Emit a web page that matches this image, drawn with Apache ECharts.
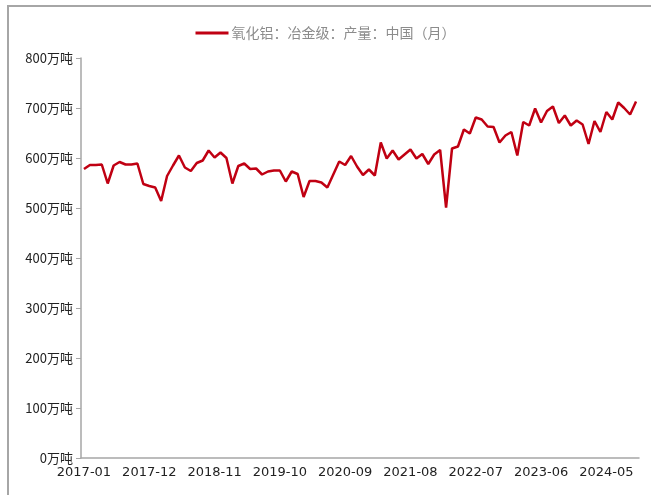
<!DOCTYPE html>
<html>
<head>
<meta charset="utf-8">
<script src="https://cdn.jsdelivr.net/npm/echarts@6/dist/echarts.min.js"></script>
<style>
html,body{margin:0;padding:0;background:#fff;}
#frame{position:absolute;left:7px;top:5px;width:700px;height:600px;border-left:2px solid #a6a6a6;border-top:2px solid #a6a6a6;}
#chart{position:absolute;left:0;top:0;width:651px;height:495px;}
</style>
</head>
<body>
<div id="frame"></div>
<div id="chart"></div>
<script>
const seriesName = '氧化铝：冶金级：产量：中国（月）';
const startYear = 2017;
const monthCount = 94;
const categories = [];
for (let i = 0; i < monthCount; i++) {
  const y = startYear + Math.floor(i / 12);
  const m = (i % 12) + 1;
  categories.push(y + '-' + (m < 10 ? '0' + m : m));
}
const values2017_2019 = [578,586,586,587,549,585,592,587,587,589,548,544,
                         541,514,564,585,605,581,574,590,595,615,601,611,
                         600,549,584,589,578,579,567,573];
const values2019_2022 = [575,575,553,573,568,522,554,554,551,541,567,593,
                         586,604,583,566,577,565,631,599,615,597,607,617,
                         599,608,588,607,616,501];
const values2022_2024 = [619,623,657,649,681,677,663,662,631,645,652,605,
                         672,665,699,671,694,703,670,685,665,675,667,628,
                         674,652,692,677,711,700,687,713];
const values = values2017_2019.concat(values2019_2022, values2022_2024);
const yTicks = [0,100,200,300,400,500,600,700,800];
const unit = '万吨';

const chart = echarts.init(document.getElementById('chart'), null, {renderer:'canvas'});
chart.setOption({
  animation: false,
  backgroundColor: 'transparent',
  legend: {
    top: 21,
    left: 'center',
    icon: 'rect',
    itemWidth: 33,
    itemHeight: 3,
    itemGap: 6,
    textStyle: {color: '#8c8c8c', fontSize: 14, fontFamily: '"Noto Sans CJK SC", sans-serif', padding: [0,0,0,-2]},
    data: [seriesName]
  },
  grid: {left: 81, right: 12, top: 58, bottom: 37, containLabel: false},
  xAxis: {
    type: 'category',
    data: categories,
    boundaryGap: true,
    axisLine: {lineStyle: {color: '#a6a6a6', width: 1.5}},
    axisTick: {interval: 10, length: 5, lineStyle: {color: '#a6a6a6'}},
    axisLabel: {interval: 10, color: '#222', fontSize: 13, margin: 8, fontFamily: '"DejaVu Sans", sans-serif'},
    splitLine: {show: false}
  },
  yAxis: {
    type: 'value',
    min: yTicks[0],
    max: yTicks[yTicks.length - 1],
    interval: 100,
    axisLine: {show: true, lineStyle: {color: '#a6a6a6', width: 1.5}},
    axisTick: {show: true, length: 5, lineStyle: {color: '#a6a6a6'}},
    axisLabel: {color: '#222', fontSize: 13, margin: 8, fontFamily: '"Noto Sans CJK SC", sans-serif',
      formatter: function (v) { return v + unit; }},
    splitLine: {show: false}
  },
  series: [{
    name: seriesName,
    type: 'line',
    data: values,
    symbol: 'none',
    lineStyle: {color: '#c00012', width: 2.5},
    itemStyle: {color: '#c00012'}
  }]
});
</script>
</body>
</html>
